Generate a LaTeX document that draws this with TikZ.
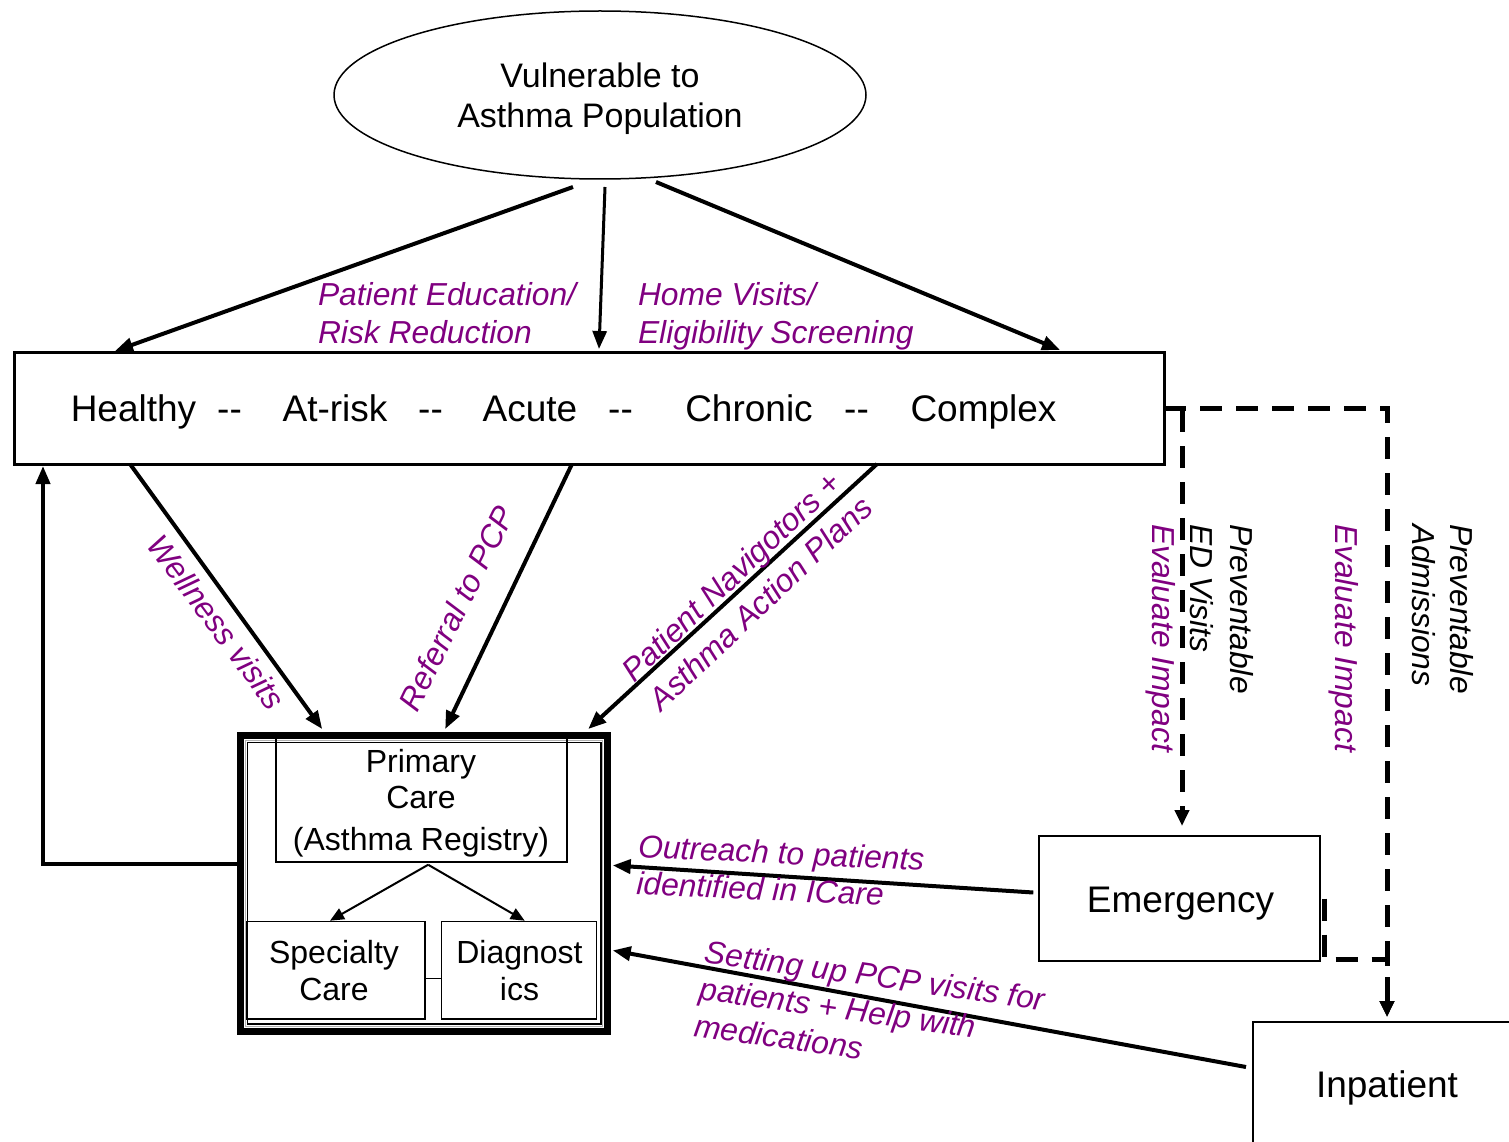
\documentclass[tikz,border=0pt]{standalone}
\usepackage{fontspec}
\setmainfont{Liberation Sans}
\usetikzlibrary{arrows.meta,shapes.geometric}
\definecolor{labp}{RGB}{128,0,128}
\begin{document}
\begin{tikzpicture}[x=1pt,y=-1pt,
  every node/.style={inner sep=0pt,outer sep=0pt},
  big/.style={font=\fontsize{37}{42}\selectfont},
  mid/.style={font=\fontsize{32}{36}\selectfont},
  lab/.style={font=\fontsize{31.8}{37}\selectfont\itshape,text=labp},
  vlab/.style={font=\fontsize{31.8}{37}\selectfont\itshape},
  conn/.style={line width=4pt,-{Triangle[length=18pt,width=14pt]}},
  smallarr/.style={line width=2pt,-{Triangle[length=14pt,width=12pt]}},
  dsh/.style={line width=5pt,dash pattern=on 22pt off 14pt,-{Triangle[length=16pt,width=14pt]}},
  boxed/.style={draw,line width=2pt}]
\useasboundingbox (0,0) rectangle (1509,1142);
% top ellipse
\node[ellipse,draw,line width=1.5pt,minimum width=532pt,minimum height=168pt] (ell) at (600,95) {};
\node[align=center,font=\fontsize{34}{40}\selectfont] (ellt) at (600,99) {Vulnerable to\\Asthma Population};
% main box
\node[draw,line width=3pt,minimum width=1150pt,minimum height=112pt] (box) at (589,408) {};
\node[big,anchor=base] (w1) at (133.5,421) {Healthy};
\node[big,anchor=base] (w2) at (229.5,421) {-{}-};
\node[big,anchor=base] (w3) at (335,421) {At-risk};
\node[big,anchor=base] (w4) at (430.5,421) {-{}-};
\node[big,anchor=base] (w5) at (530,421) {Acute};
\node[big,anchor=base] (w6) at (620.5,421) {-{}-};
\node[big,anchor=base] (w7) at (749,421) {Chronic};
\node[big,anchor=base] (w8) at (856.5,421) {-{}-};
\node[big,anchor=base] (w9) at (983.5,421) {Complex};
% primary care complex
\node[draw,line width=7pt,minimum width=367pt,minimum height=296.7pt] (pc) at (424.2,883.4) {};
\draw[gray!60,line width=0.8pt] ([shift={(5pt,-5.5pt)}]pc.north west) rectangle ([shift={(-5pt,5.5pt)}]pc.south east);
\draw[line width=1.2pt] ([shift={(6.6pt,-7.7pt)}]pc.north west) rectangle ([shift={(-6.7pt,7.7pt)}]pc.south east);
\node[boxed,minimum width=291pt,minimum height=123.7pt] (pcbox) at (421.2,799.9) {};
\node[mid,anchor=base] (pct1) at (421,772) {Primary};
\node[mid,anchor=base] (pct2) at (421,808) {Care};
\node[mid,anchor=base] (pct3) at (421,850) {(Asthma Registry)};
\node[draw,line width=1.5pt,minimum width=178pt,minimum height=97.3pt] (spec) at (336,970.35) {};
\node[mid,anchor=base] (spt1) at (334,963) {Specialty};
\node[mid,anchor=base] (spt2) at (334,1000) {Care};
\node[draw,line width=1.5pt,minimum width=155pt,minimum height=97.3pt] (diag) at (519.2,970.35) {};
\node[mid,anchor=base] (dgt1) at (519.5,963) {Diagnost};
\node[mid,anchor=base] (dgt2) at (519.5,1000) {ics};
\draw[smallarr] ([xshift=7pt,yshift=-3pt]pcbox.south) -- ([xshift=-6pt,yshift=1pt]spec.north);
\draw[smallarr] ([xshift=7pt,yshift=-3pt]pcbox.south) -- ([xshift=5.5pt,yshift=1pt]diag.north);
\draw[line width=1.2pt] ([yshift=-8pt]spec.east) -- ([yshift=-8pt]diag.west);
% emergency and inpatient
\node[boxed,minimum width=280.7pt,minimum height=125pt] (emer) at (1179.65,898.5) {};
\node[big,anchor=base] (emt) at (1180.5,912) {Emergency};
\node[boxed,minimum width=268pt,minimum height=158pt] (inp) at (1387,1101) {};
\node[big,anchor=base] (inpt) at (1387,1097) {Inpatient};
% connectors from ellipse
\draw[conn] ([xshift=-27pt,yshift=-8pt]ell.south) -- ([xshift=-474pt,yshift=1pt]box.north);
\draw[conn,line width=3pt] ([xshift=5pt,yshift=-8pt]ell.south) -- ([xshift=10pt,yshift=3pt]box.north);
\draw[conn] ([xshift=56pt,yshift=-3pt]ell.south) -- ([xshift=471pt,yshift=2pt]box.north);
% connectors from box to primary care
\draw[conn] ([xshift=-459pt]box.south) -- ([xshift=-102pt,yshift=6pt]pc.north);
\draw[conn] ([xshift=-17pt]box.south) -- ([xshift=21pt,yshift=6pt]pc.north);
\draw[conn] ([xshift=288pt]box.south) -- ([xshift=164pt,yshift=6pt]pc.north);
% feedback
\draw[conn] ([yshift=19pt]pc.west) -| ([xshift=-546pt,yshift=-2pt]box.south);
% from emergency / inpatient
\draw[conn] ([xshift=-6pt,yshift=6pt]emer.west) -- ([xshift=5pt,yshift=18pt]pc.east);
\draw[conn] ([xshift=-7pt,yshift=34pt]inp.west) -- ([xshift=5pt,yshift=-67pt]pc.east);
% dashed
\draw[dsh] (box.east) -| ([yshift=5pt]inp.north);
\coordinate (edsplit) at (1182,410);
\draw[dsh,shorten >=10pt] (edsplit) -- (edsplit |- emer.north);
\draw[dsh] ([xshift=4pt]emer.east) -- ([xshift=4pt,yshift=2pt]emer.south east) -| ([yshift=5pt]inp.north);
% labels
\node[lab,anchor=base west] (l1a) at (318,305) {Patient Education/};
\node[lab,anchor=base west] (l1b) at (318,343) {Risk Reduction};
\node[lab,anchor=base west] (l2a) at (638,305) {Home Visits/};
\node[lab,anchor=base west] (l2b) at (638,343) {Eligibility Screening};
\node[lab,rotate=-53.5] (lw) at (216.7,622) {Wellness visits};
\node[lab,rotate=64] (lr) at (456.5,608) {Referral to PCP};
\node[lab,rotate=43.5,align=left,font=\fontsize{31.8}{40}\selectfont\itshape] (ln) at (746.7,588.3) {Patient Navigotors +\\Asthma Action Plans};
\node[lab,rotate=-2.7,align=left] (lo) at (780.5,871) {Outreach to patients\\identified in ICare};
\node[lab,rotate=-8,align=left] (ls) at (870,1012) {Setting up PCP visits for\\patients + Help with\\medications};
\node[vlab,rotate=-90,anchor=base west] (pe1) at (1230,524) {Preventable};
\node[vlab,rotate=-90,anchor=base west] (pe2) at (1190,524) {ED Visits};
\node[lab,rotate=-90,anchor=base west] (ev1) at (1152,524) {Evaluate Impact};
\node[vlab,rotate=-90,anchor=base west] (pa1) at (1450,524) {Preventable};
\node[vlab,rotate=-90,anchor=base west] (pa2) at (1412,524) {Admissions};
\node[lab,rotate=-90,anchor=base west] (ev2) at (1335,524) {Evaluate Impact};
\end{tikzpicture}
\end{document}
